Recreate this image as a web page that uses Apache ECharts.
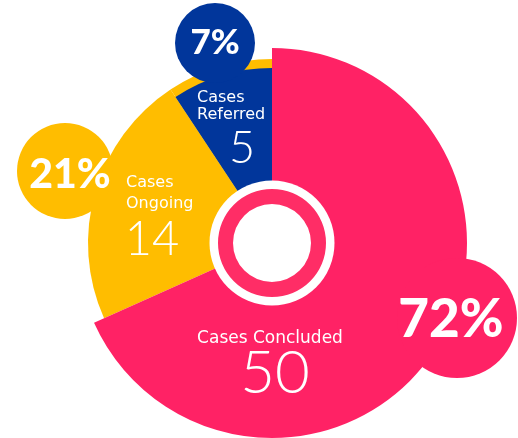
<!DOCTYPE html>
<html>
<head>
<meta charset="utf-8">
<style>
  html, body { margin: 0; padding: 0; background: #ffffff; }
  #chart { width: 518px; height: 438px; }
</style>
<script src="https://cdn.jsdelivr.net/npm/echarts@6/dist/echarts.min.js"></script>
</head>
<body>
<div id="chart"></div>
<script>
// ---- data ----
const categories = ['Cases Concluded', 'Cases Ongoing', 'Cases Referred'];
const caseCounts = [50, 14, 5];
const percentLabels = ['72%', '21%', '7%'];
// angular share of each slice as drawn in the picture (degrees / 3.6)
const arcShares = [68.3, 22.4, 9.3];
const colors = ['#FF2265', '#FFBD00', '#01369B'];

const chart = echarts.init(document.getElementById('chart'), null, { renderer: 'canvas' });

const CX = 272, CY = 243;
const LABEL_FONT = '"DejaVu Sans", "Open Sans", sans-serif';
const NUM_FONT = '"Lato", "Open Sans", sans-serif';
const BADGE_FONT = '"Lato", "Roboto", sans-serif';

function layerData(visibleIdx, colorFor) {
  return categories.map((name, i) => ({
    name: name,
    value: arcShares[i],
    itemStyle: { color: visibleIdx.includes(i) ? colorFor(i) : 'rgba(0,0,0,0)' }
  }));
}

const baseSeries = {
  type: 'pie',
  center: [CX, CY],
  startAngle: 90,
  clockwise: true,
  silent: true,
  animation: false,
  label: { show: false },
  labelLine: { show: false },
  emphasis: { disabled: true }
};

const option = {
  backgroundColor: '#ffffff',
  animation: false,
  series: [
    // yellow slice, extends behind the blue slice
    Object.assign({}, baseSeries, {
      name: 'ongoing', radius: [0, 184], z: 1,
      data: layerData([1, 2], () => colors[1])
    }),
    // blue slice
    Object.assign({}, baseSeries, {
      name: 'referred', radius: [0, 175], z: 2,
      data: layerData([2], () => colors[2])
    }),
    // pink slice
    Object.assign({}, baseSeries, {
      name: 'concluded', radius: [0, 195], z: 3,
      data: layerData([0], () => colors[0])
    })
  ],
  graphic: [
    // centre rings
    { type: 'circle', z: 100, silent: true, shape: { cx: CX, cy: CY, r: 62.5 }, style: { fill: '#ffffff' } },
    { type: 'ring', z: 101, silent: true, shape: { cx: CX, cy: CY, r: 54, r0: 39 }, style: { fill: '#FF2D66' } },
    // percentage badges
    { type: 'circle', z: 100, silent: true, shape: { cx: 215, cy: 43, r: 40 }, style: { fill: colors[2] } },
    { type: 'circle', z: 100, silent: true, shape: { cx: 65, cy: 171, r: 48 }, style: { fill: colors[1] } },
    { type: 'circle', z: 100, silent: true, shape: { cx: 457, cy: 318, r: 60 }, style: { fill: colors[0] } },
    { type: 'text', z: 110, silent: true, style: { text: percentLabels[2], x: 215, y: 43, textAlign: 'center', textVerticalAlign: 'middle', fill: '#fff', font: '900 35px ' + BADGE_FONT } },
    { type: 'text', z: 110, silent: true, style: { text: percentLabels[1], x: 70, y: 175, textAlign: 'center', textVerticalAlign: 'middle', fill: '#fff', font: '900 41px ' + BADGE_FONT } },
    { type: 'text', z: 110, silent: true, style: { text: percentLabels[0], x: 451, y: 320, textAlign: 'center', textVerticalAlign: 'middle', fill: '#fff', font: '900 53px ' + BADGE_FONT } },
    // slice labels
    { type: 'text', z: 110, silent: true, style: { text: categories[2].replace(' ', '\n'), x: 197, y: 89, textAlign: 'left', textVerticalAlign: 'top', lineHeight: 17, fill: '#fff', font: '400 16px ' + LABEL_FONT } },
    { type: 'text', z: 110, silent: true, style: { text: String(caseCounts[2]), x: 242, y: 148, textAlign: 'center', textVerticalAlign: 'middle', fill: '#fff', font: '300 45px ' + NUM_FONT } },
    { type: 'text', z: 110, silent: true, style: { text: categories[1].replace(' ', '\n'), x: 126, y: 172, textAlign: 'left', textVerticalAlign: 'top', lineHeight: 21, fill: '#fff', font: '400 16px ' + LABEL_FONT } },
    { type: 'text', z: 110, silent: true, style: { text: String(caseCounts[1]), x: 152, y: 240, textAlign: 'center', textVerticalAlign: 'middle', fill: '#fff', font: '300 47px ' + NUM_FONT } },
    { type: 'text', z: 110, silent: true, style: { text: categories[0], x: 270, y: 339, textAlign: 'center', textVerticalAlign: 'middle', fill: '#fff', font: '400 17px ' + LABEL_FONT } },
    { type: 'text', z: 110, silent: true, style: { text: String(caseCounts[0]), x: 275, y: 374, textAlign: 'center', textVerticalAlign: 'middle', fill: '#fff', font: '300 60px ' + NUM_FONT } }
  ]
};

chart.setOption(option);
</script>
</body>
</html>
